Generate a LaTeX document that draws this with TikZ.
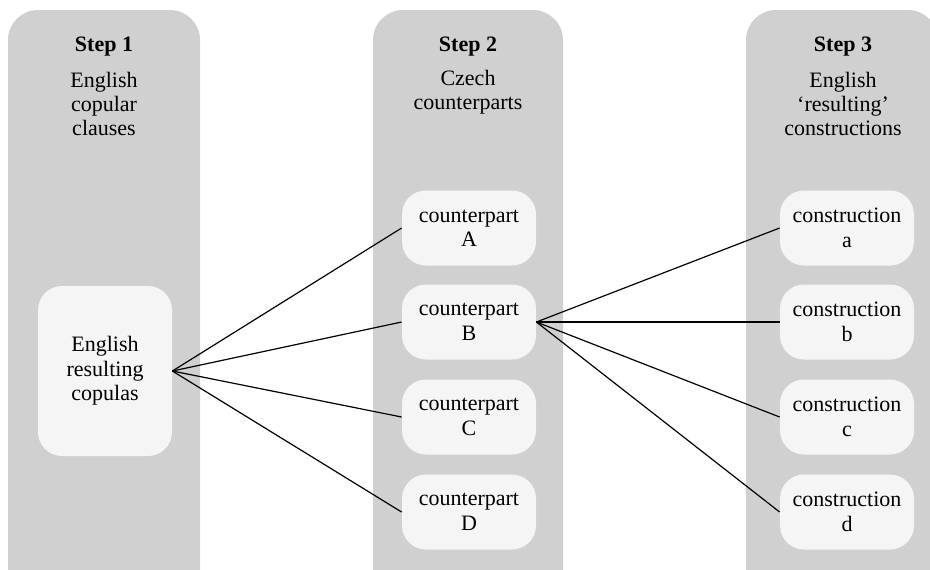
\documentclass[tikz,border=0pt]{standalone}
\usepackage{fontspec}
\setmainfont{Liberation Serif}
\usepackage{tikz}
\usetikzlibrary{positioning}

\definecolor{panelgray}{HTML}{D0D0D0}
\definecolor{boxgray}{HTML}{F5F5F5}

\begin{document}
\begin{tikzpicture}[x=0.5pt,y=-0.5pt,
    panel/.style={fill=panelgray,rounded corners=15pt},
    item/.style={fill=boxgray,rounded corners=12pt,align=center,
        minimum width=67pt,minimum height=37.5pt,inner sep=2pt,font=\fontsize{11}{12.2}\selectfont},
    title/.style={font=\bfseries\fontsize{11}{12.2}\selectfont},
    desc/.style={align=center,font=\fontsize{11}{12.2}\selectfont},
    link/.style={black,line width=0.6pt}]
    \clip (0,0) rectangle (930,569);
    % columns
    \fill[panel] (8,10) rectangle (200,620);
    \fill[panel] (373,10) rectangle (563,620);
    \fill[panel] (746,10) rectangle (938,620);
    \node[title] (s1) at (104,47) {Step 1};
    \node[title] (s2) at (468,47) {Step 2};
    \node[title] (s3) at (843,47) {Step 3};
    \node[desc] (d1) at (104,104) {English\\copular\\clauses};
    \node[desc] (d2) at (468,92) {Czech\\counterparts};
    \node[desc] (d3) at (843,104) {English\\`resulting'\\constructions};
    % boxes
    \node[item,minimum height=85pt] (cop) at (105,371) {English\\resulting\\copulas};
    \node[item] (cA) at (469,228) {counterpart\\A};
    \node[item] (cB) at (469,322) {counterpart\\B};
    \node[item] (cC) at (469,417) {counterpart\\C};
    \node[item] (cD) at (469,512) {counterpart\\D};
    \node[item] (ka) at (847,228) {construction\\a};
    \node[item] (kb) at (847,322) {construction\\b};
    \node[item] (kc) at (847,417) {construction\\c};
    \node[item] (kd) at (847,512) {construction\\d};
    % links
    \foreach \n in {cA,cB,cC,cD}
        \draw[link] (cop.east) -- (\n.west);
    \foreach \n in {ka,kb,kc,kd}
        \draw[link] (cB.east) -- (\n.west);
\end{tikzpicture}
\end{document}
